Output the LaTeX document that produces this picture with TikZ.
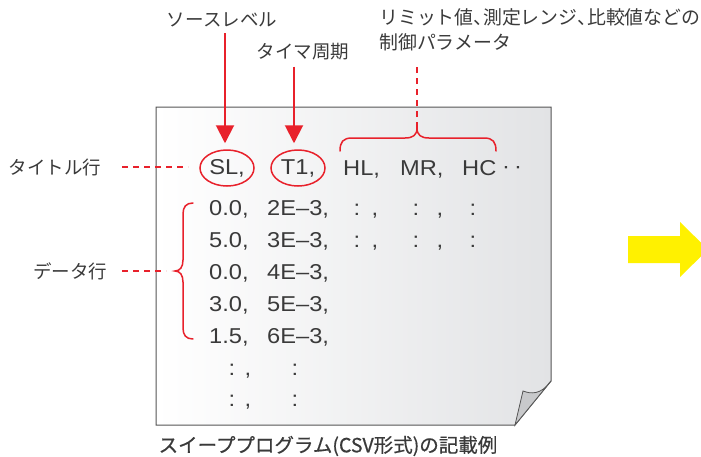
\documentclass[tikz,border=0pt]{standalone}
\usepackage{fontspec}
\setmainfont{Noto Sans CJK JP}
\newfontfamily\lat{Liberation Sans}[FakeStretch=1.1]
\usetikzlibrary{shapes.geometric,arrows.meta,calc}
\definecolor{ink}{HTML}{3A3A3A}
\definecolor{myred}{HTML}{E8212B}
\definecolor{myyellow}{HTML}{FFF100}
\definecolor{pagegray}{HTML}{E2E3E5}
\definecolor{pageline}{HTML}{555555}
\definecolor{foldgray}{HTML}{C8C9CB}
\newcommand{\tten}{\makebox[0.5em][l]{、}}
\begin{document}
\begin{tikzpicture}[x=1pt,y=-1pt,
  jp/.style={text=ink, font=\fontsize{18.5}{25}\selectfont, inner sep=0pt},
  num/.style={text=ink, font=\lat\fontsize{21.5}{24}\selectfont, inner sep=0pt, anchor=base west},
  sym/.style={text=ink, font=\lat\fontsize{21.5}{24}\selectfont, inner sep=0pt, anchor=base},
  hl/.style={draw=myred, line width=1.5pt, ellipse, minimum width=54pt, minimum height=36pt, inner sep=0pt, text=ink, font=\lat\fontsize{21.5}{24}\selectfont},
  redarrow/.style={draw=myred, line width=2pt, -{Triangle[width=18pt,length=18pt]}},
  reddash/.style={draw=myred, line width=1.5pt, dash pattern=on 6pt off 5pt},
  brace/.style={draw=myred, line width=1.5pt, line cap=round},
]
\useasboundingbox (0,0) rectangle (701,456);
\clip (0,0) rectangle (701,456);

% page
\shade[left color=white, right color=pagegray, draw=pageline, line width=1pt]
  (156,107) -- (551,107) -- (551,381) -- (515,425) -- (156,425) -- cycle;
\draw[fill=foldgray, draw=pageline, line width=0.8pt]
  (515,425) -- (523,391) .. controls (531,394) and (541,395) .. (551,381) -- cycle;

% yellow arrow
\fill[myyellow] (628,236) -- (680,236) -- (680,222) -- (708,249.5) -- (680,277) -- (680,263) -- (628,263) -- cycle;

% labels
\node[jp] (srclbl) at (222,20) {ソースレベル};
\node[jp] (tmrlbl) at (303,52) {タイマ周期};
\node[jp, font=\fontsize{18.9}{25}\selectfont, anchor=north west, align=left] (parlbl) at (379,8) {リミット値\tten 測定レンジ\tten 比較値などの\\制御パラメータ};
\node[jp] (titlelbl) at (55,167) {タイトル行};
\node[jp] (datalbl) at (70,271) {データ行};
\node[jp, font=\addfontfeature{FakeBold=0.6}\fontsize{19.5}{22}\selectfont] (caption) at (328,446) {スイーププログラム(CSV形式)の記載例};

% title row
\node[hl] (SL) at (227,168) {SL,};
\node[hl] (T1) at (298,168) {T1,};
\node[num] (HL) at (343,175.5) {HL,};
\node[num] (MR) at (400,175.5) {MR,};
\node[num] (HC) at (462,175.5) {HC};
\node[sym] (d1) at (506,173) {·};
\node[sym] (d2) at (518,173) {·};

% data rows
\node[num] (r1a) at (209,215.5) {0.0,};
\node[num] (r1b) at (267,215.5) {2E–3,};
\node[num] (r2a) at (209,247.5) {5.0,};
\node[num] (r2b) at (267,247.5) {3E–3,};
\node[num] (r3a) at (209,279.5) {0.0,};
\node[num] (r3b) at (267,279.5) {4E–3,};
\node[num] (r4a) at (209,311.5) {3.0,};
\node[num] (r4b) at (267,311.5) {5E–3,};
\node[num] (r5a) at (209,343.5) {1.5,};
\node[num] (r5b) at (267,343.5) {6E–3,};
% colons rows 1-2
\node[sym] (c1a) at (357,215.5) {:};
\node[sym] (c1b) at (375,215.5) {,};
\node[sym] (c1c) at (416,215.5) {:};
\node[sym] (c1d) at (440,215.5) {,};
\node[sym] (c1e) at (473,215.5) {:};
\node[sym] (c2a) at (357,247.5) {:};
\node[sym] (c2b) at (375,247.5) {,};
\node[sym] (c2c) at (416,247.5) {:};
\node[sym] (c2d) at (440,247.5) {,};
\node[sym] (c2e) at (473,247.5) {:};
% continuation rows
\node[sym] (c6a) at (232,375.5) {:};
\node[sym] (c6b) at (248,375.5) {,};
\node[sym] (c6c) at (295,375.5) {:};
\node[sym] (c7a) at (232,406.5) {:};
\node[sym] (c7b) at (248,406.5) {,};
\node[sym] (c7c) at (295,406.5) {:};

% red arrows
\draw[redarrow, shorten >=6pt] (SL.north |- srclbl.south) ++(-2,6) coordinate (sa) -- (SL.north -| sa);
\draw[redarrow, shorten >=6pt] (T1.north |- tmrlbl.south) ++(-4,6) coordinate (ta) -- (T1.north -| ta);

% dashed leaders
\coordinate (tdash) at (122,167);
\coordinate (tdashe) at (188,167);
\draw[reddash] (tdash) -- (tdashe);
\coordinate (ddash) at (122,271);
\coordinate (btipL) at (175,271);
\draw[reddash] (ddash) -- ($(btipL)+(-9,0)$);

% top brace
\coordinate (btip) at (417,128);
\coordinate (ptop) at (417,63);
\draw[brace] (340,151) .. controls (340,142) and (343,138) .. (352,138) -- (405,138)
  .. controls (413,138) and (417,135) .. (btip)
  .. controls (417,135) and (421,138) .. (429,138) -- (484,138)
  .. controls (493,138) and (496,142) .. (496,151);
\draw[reddash] (btip) -- (ptop);

% left brace
\draw[brace] (193,203) .. controls (186,203) and (183,207) .. (183,214) -- (183,260)
  .. controls (183,267) and (180,271) .. (btipL)
  .. controls (180,271) and (183,275) .. (183,282) -- (183,328)
  .. controls (183,335) and (186,339) .. (193,339);
\end{tikzpicture}
\end{document}
